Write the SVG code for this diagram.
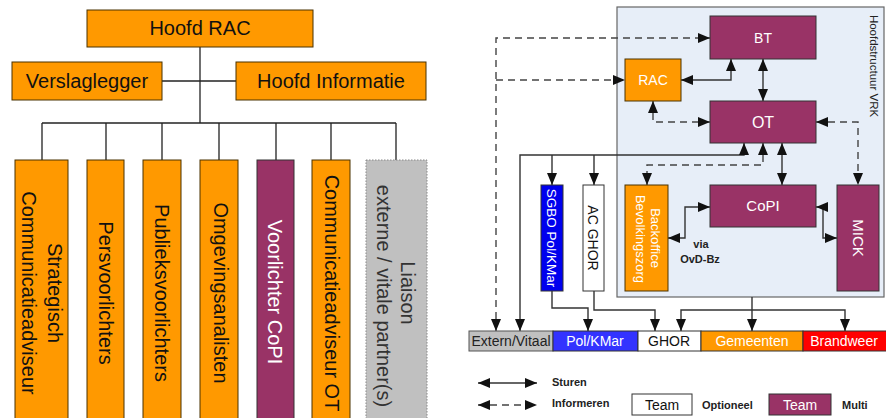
<svg xmlns="http://www.w3.org/2000/svg" width="886" height="418" viewBox="0 0 886 418">
<style>
text{font-family:"Liberation Sans",Arial,sans-serif;}
.or{fill:#FF9900;stroke:#4a3300;stroke-width:1;}
.pu{fill:#993366;stroke:#333;stroke-width:1;}
.wh{fill:#fff;stroke:#333;stroke-width:1;}
.gr{fill:#C0C0C0;stroke:#888;stroke-width:1;stroke-dasharray:1.5,1.5;}
.tree{fill:none;stroke:#222;stroke-width:1.3;}
.s{fill:none;stroke:#333;stroke-width:1.4;}
.d{fill:none;stroke:#444;stroke-width:1.4;stroke-dasharray:7,5;}
.a{marker-end:url(#ah);}
.b{marker-start:url(#ah);marker-end:url(#ah);}
.t20{font-size:20px;fill:#111;}
.v20{font-size:20px;fill:#111;text-anchor:middle;}
.wt{fill:#fff;text-anchor:middle;}
.bd{font-size:11px;font-weight:bold;fill:#222;}
.bar{font-size:14px;text-anchor:middle;}
</style>
<defs>
<marker id="ah" viewBox="0 0 12 10" refX="12" refY="5" markerWidth="12" markerHeight="10" markerUnits="userSpaceOnUse" orient="auto-start-reverse">
<path d="M0,0 L12,5 L0,10 z" fill="#111"/>
</marker>
</defs>

<!-- LEFT ORG TREE -->
<g id="tree-lines">
<path class="tree" d="M200,47 V123" stroke-width="2.2"/>
<path class="tree" d="M162,81 H236"/>
<path class="tree" d="M42,123 H396"/>
<path class="tree" d="M42,123 V161 M106,123 V161 M162,123 V161 M219,123 V161 M276,123 V161 M331,123 V161 M396,123 V161"/>
</g>
<g id="hoofd-rac"><rect class="or" x="87" y="10" width="226" height="37"/><text class="t20" x="200" y="35" text-anchor="middle">Hoofd RAC</text></g>
<g id="verslaglegger"><rect class="or" x="12" y="62" width="150" height="38"/><text class="t20" x="87" y="88" text-anchor="middle" font-size="19">Verslaglegger</text></g>
<g id="hoofd-informatie"><rect class="or" x="236" y="62" width="190" height="38"/><text class="t20" x="331" y="88" text-anchor="middle">Hoofd Informatie</text></g>

<g id="strategisch"><rect class="or" x="15" y="160" width="53" height="265"/>
<text class="v20" transform="translate(48,293) rotate(90)">Strategisch</text>
<text class="v20" transform="translate(22,293) rotate(90)">Communicatieadviseur</text></g>
<g id="persvoorlichters"><rect class="or" x="87" y="160" width="37" height="265"/>
<text class="v20" transform="translate(99,293) rotate(90)">Persvoorlichters</text></g>
<g id="publieksvoorlichters"><rect class="or" x="143" y="160" width="38" height="265"/>
<text class="v20" transform="translate(155,293) rotate(90)">Publieksvoorlichters</text></g>
<g id="omgevingsanalisten"><rect class="or" x="200" y="160" width="38" height="265"/>
<text class="v20" transform="translate(214,293) rotate(90)">Omgevingsanalisten</text></g>
<g id="voorlichter-copi"><rect class="pu" x="257" y="160" width="37" height="265"/>
<text class="v20" style="fill:#fff" transform="translate(268,292) rotate(90)">Voorlichter CoPI</text></g>
<g id="communicatieadviseur-ot"><rect class="or" x="312" y="160" width="38" height="265"/>
<text class="v20" transform="translate(325,293) rotate(90)">Communicatieadviseur OT</text></g>
<g id="liaison"><rect class="gr" x="366" y="160" width="61" height="265"/>
<text class="v20" style="fill:#333" transform="translate(401,293) rotate(90)">Liaison</text>
<text class="v20" style="fill:#333" transform="translate(377,296) rotate(90)">externe / vitale partner(s)</text></g>

<!-- RIGHT DIAGRAM -->
<g id="hoofdstructuur-vrk">
<rect x="617" y="7" width="267" height="290" fill="#E7EEF8" stroke="#666" stroke-width="1.2"/>
<text transform="translate(870,66) rotate(90)" font-size="11.5" fill="#222" text-anchor="middle">Hoofdstructuur VRK</text>
</g>

<g id="connectors">
<path class="d b" d="M496,331 V38 H710"/>
<path class="d a" d="M496,80 H625"/>
<path class="s b" d="M681,80 H731 V59"/>
<path class="s b" d="M763,59 V101"/>
<path class="d b" d="M653,101 V122 H710"/>
<path class="d b" d="M816,122 H858 V185"/>
<path class="s b" d="M782,143 V185"/>
<path class="s b" d="M744,143 V155 H520 V331"/>
<path class="s a" d="M552,155 V185"/>
<path class="s a" d="M594,155 V185"/>
<path class="d b" d="M763,143 V165 H647 V185"/>
<path class="s b" d="M668,238 H685 V207 H710"/>
<path class="s b" d="M816,207 H823 V238 H837"/>
<path class="s a" d="M752,297 V331"/>
<path class="s b" d="M681,331 V310 H845 V331"/>
<path class="s a" d="M552,291 V308 H588 V331"/>
<path class="s a" d="M594,291 V310 H655 V331"/>
</g>

<g id="bt"><rect class="pu" x="710" y="16" width="106" height="43"/><text class="wt" x="763" y="43" font-size="14">BT</text></g>
<g id="rac"><rect class="or" x="625" y="59" width="56" height="42"/><text class="wt" x="653" y="85" font-size="14">RAC</text></g>
<g id="ot"><rect class="pu" x="710" y="101" width="106" height="42"/><text class="wt" x="763" y="128" font-size="16">OT</text></g>
<g id="copi"><rect class="pu" x="710" y="185" width="106" height="42"/><text class="wt" x="763" y="211" font-size="15">CoPI</text></g>
<g id="mick"><rect class="pu" x="837" y="185" width="42" height="106"/><text class="wt" font-size="15" transform="translate(853,238) rotate(90)">MICK</text></g>
<g id="backoffice"><rect class="or" x="625" y="185" width="43" height="106"/>
<text class="wt" font-size="13" transform="translate(651,238) rotate(90)">Backoffice</text>
<text class="wt" font-size="13" transform="translate(636,239) rotate(90)">Bevolkingszorg</text></g>
<g id="sgbo"><rect x="541" y="185" width="22" height="106" fill="#0000EE" stroke="#333"/>
<text class="wt" font-size="13.5" transform="translate(547,238) rotate(90)">SGBO Pol/KMar</text></g>
<g id="ac-ghor"><rect class="wh" x="583" y="185" width="21" height="106"/>
<text font-size="14" fill="#111" text-anchor="middle" transform="translate(588,238) rotate(90)">AC GHOR</text></g>
<g id="via-label"><text class="bd" x="701" y="248" text-anchor="middle">via</text><text class="bd" x="700" y="263" text-anchor="middle">OvD-Bz</text></g>

<g id="extern-vitaal"><rect x="469" y="331" width="84" height="20" fill="#C0C0C0" stroke="#555"/><text class="bar" x="511" y="346" fill="#222">Extern/Vitaal</text></g>
<g id="pol-kmar"><rect x="553" y="331" width="85" height="20" fill="#3333FF" stroke="#333"/><text class="bar" x="595" y="346" fill="#fff">Pol/KMar</text></g>
<g id="ghor"><rect x="638" y="331" width="63" height="20" fill="#fff" stroke="#333"/><text class="bar" x="669" y="346" fill="#111">GHOR</text></g>
<g id="gemeenten"><rect x="701" y="331" width="102" height="20" fill="#FF9900" stroke="#333"/><text class="bar" x="752" y="346" fill="#fff">Gemeenten</text></g>
<g id="brandweer"><rect x="803" y="331" width="84" height="20" fill="#FF0000" stroke="#333"/><text class="bar" x="844" y="346" fill="#fff">Brandweer</text></g>

<g id="legend">
<path class="s b" d="M478,383 H537"/>
<path class="d b" d="M478,405 H537"/>
<text class="bd" x="552" y="386">Sturen</text>
<text class="bd" x="552" y="407">Informeren</text>
<rect class="wh" x="632" y="394" width="60" height="21"/>
<text x="662" y="410" font-size="14" fill="#111" text-anchor="middle">Team</text>
<text class="bd" x="702" y="409">Optioneel</text>
<rect class="pu" x="769" y="394" width="62" height="21"/>
<text x="800" y="410" font-size="14" fill="#fff" text-anchor="middle">Team</text>
<text class="bd" x="842" y="409">Multi</text>
</g>
</svg>
